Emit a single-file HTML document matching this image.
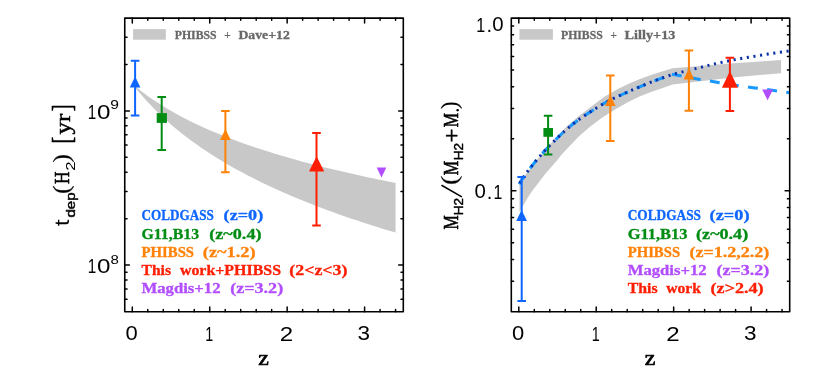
<!DOCTYPE html>
<html><head><meta charset="utf-8"><title>chart</title>
<style>html,body{margin:0;padding:0;background:#fff;}svg{display:block;}</style>
</head><body>
<svg width="830" height="367" viewBox="0 0 830 367"><g style="opacity:0.999"><path d="M135.40 86.37L139.73 89.89L144.07 93.22L148.41 96.40L152.74 99.44L157.08 102.34L161.41 105.12L165.75 107.79L170.09 110.36L174.42 112.84L178.76 115.22L183.09 117.53L187.43 119.75L191.77 121.91L196.10 124.00L200.44 126.02L204.77 127.99L209.11 129.90L213.45 131.75L217.78 133.56L222.12 135.32L226.45 137.03L230.79 138.70L235.13 140.34L239.46 141.93L243.80 143.48L248.14 145.00L252.47 146.49L256.81 147.94L261.14 149.36L265.48 150.76L269.82 152.12L274.15 153.46L278.49 154.77L282.82 156.06L287.16 157.32L291.50 158.56L295.83 159.77L300.17 160.97L304.50 162.14L308.84 163.29L313.18 164.43L317.51 165.54L321.85 166.64L326.18 167.72L330.52 168.78L334.86 169.83L339.19 170.85L343.53 171.87L347.87 172.87L352.20 173.85L356.54 174.82L360.87 175.78L365.21 176.72L369.55 177.65L373.88 178.56L378.22 179.47L382.55 180.36L386.89 181.24L391.23 182.11L395.56 182.97L395.56 232.58L391.23 231.29L386.89 229.99L382.55 228.67L378.22 227.33L373.88 225.97L369.55 224.60L365.21 223.20L360.87 221.79L356.54 220.36L352.20 218.90L347.87 217.43L343.53 215.93L339.19 214.41L334.86 212.86L330.52 211.30L326.18 209.70L321.85 208.09L317.51 206.44L313.18 204.77L308.84 203.07L304.50 201.34L300.17 199.58L295.83 197.79L291.50 195.96L287.16 194.10L282.82 192.21L278.49 190.28L274.15 188.32L269.82 186.31L265.48 184.26L261.14 182.17L256.81 180.04L252.47 177.86L248.14 175.63L243.80 173.35L239.46 171.02L235.13 168.63L230.79 166.18L226.45 163.68L222.12 161.11L217.78 158.47L213.45 155.76L209.11 152.97L204.77 150.11L200.44 147.16L196.10 144.12L191.77 140.99L187.43 137.76L183.09 134.42L178.76 130.96L174.42 127.38L170.09 123.67L165.75 119.82L161.41 115.81L157.08 111.64L152.74 107.28L148.41 102.73L144.07 97.96L139.73 92.95L135.40 87.69Z" fill="#c8c8c8"/>
<rect x="133.1" y="29.1" width="32.7" height="10.6" fill="#c8c8c8"/>
<path d="M135.10 60.70V115.60M130.80 60.70h8.6M130.80 115.60h8.6" stroke="#0f66ff" stroke-width="2.0" fill="none"/>
<path d="M129.75 87.60L135.10 76.40L140.45 87.60Z" fill="#0f66ff"/>
<path d="M161.70 97.00V149.90M157.40 97.00h8.6M157.40 149.90h8.6" stroke="#008c14" stroke-width="2.0" fill="none"/>
<rect x="156.70" y="113.10" width="10.2" height="9.8" fill="#008c14"/>
<path d="M225.40 110.90V172.20M221.10 110.90h8.6M221.10 172.20h8.6" stroke="#ff8208" stroke-width="2.0" fill="none"/>
<path d="M220.05 140.10L225.40 128.90L230.75 140.10Z" fill="#ff8208"/>
<path d="M316.50 133.00V225.60M312.20 133.00h8.6M312.20 225.60h8.6" stroke="#ff1e00" stroke-width="2.0" fill="none"/>
<path d="M309.00 171.50L316.60 156.30L324.20 171.50Z" fill="#ff1e00"/>
<path d="M376.70 167.60L381.50 177.40L386.30 167.60Z" fill="#b24dff"/>
<g stroke="#000" stroke-width="1.5" fill="none" stroke-linecap="round"><path d="M132.30 18.1v4.9M132.30 311.8v-4.9"/><path d="M147.79 18.1v2.2M147.79 311.8v-2.2"/><path d="M163.27 18.1v2.2M163.27 311.8v-2.2"/><path d="M178.76 18.1v2.2M178.76 311.8v-2.2"/><path d="M194.24 18.1v2.2M194.24 311.8v-2.2"/><path d="M209.73 18.1v4.9M209.73 311.8v-4.9"/><path d="M225.22 18.1v2.2M225.22 311.8v-2.2"/><path d="M240.70 18.1v2.2M240.70 311.8v-2.2"/><path d="M256.19 18.1v2.2M256.19 311.8v-2.2"/><path d="M271.67 18.1v2.2M271.67 311.8v-2.2"/><path d="M287.16 18.1v4.9M287.16 311.8v-4.9"/><path d="M302.65 18.1v2.2M302.65 311.8v-2.2"/><path d="M318.13 18.1v2.2M318.13 311.8v-2.2"/><path d="M333.62 18.1v2.2M333.62 311.8v-2.2"/><path d="M349.10 18.1v2.2M349.10 311.8v-2.2"/><path d="M364.59 18.1v4.9M364.59 311.8v-4.9"/><path d="M380.08 18.1v2.2M380.08 311.8v-2.2"/><path d="M395.56 18.1v2.2M395.56 311.8v-2.2"/><path d="M124.75 265.10h4.6M403.3 265.10h-4.6"/><path d="M124.75 110.90h4.6M403.3 110.90h-4.6"/><path d="M124.75 299.31h2.3M403.3 299.31h-2.3"/><path d="M124.75 288.99h2.3M403.3 288.99h-2.3"/><path d="M124.75 280.04h2.3M403.3 280.04h-2.3"/><path d="M124.75 272.16h2.3M403.3 272.16h-2.3"/><path d="M124.75 218.68h2.3M403.3 218.68h-2.3"/><path d="M124.75 191.53h2.3M403.3 191.53h-2.3"/><path d="M124.75 172.26h2.3M403.3 172.26h-2.3"/><path d="M124.75 157.32h2.3M403.3 157.32h-2.3"/><path d="M124.75 145.11h2.3M403.3 145.11h-2.3"/><path d="M124.75 134.79h2.3M403.3 134.79h-2.3"/><path d="M124.75 125.84h2.3M403.3 125.84h-2.3"/><path d="M124.75 117.96h2.3M403.3 117.96h-2.3"/><path d="M124.75 64.48h2.3M403.3 64.48h-2.3"/><path d="M124.75 37.33h2.3M403.3 37.33h-2.3"/></g><rect x="124.75" y="18.1" width="278.55" height="293.70" fill="none" stroke="#000" stroke-width="1.6" stroke-linejoin="round"/>
<path d="M519.50 181.00L523.00 177.70L530.00 168.50L538.00 158.60L544.80 150.50L550.50 143.70L558.00 135.20L566.10 126.90L578.20 116.60L587.80 109.20L604.10 97.00L616.00 89.90L628.20 83.90L640.00 79.00L652.30 74.60L662.00 71.50L672.50 68.30L700.00 65.90L730.00 63.60L760.00 61.60L781.10 60.00L781.10 73.20L760.00 75.00L735.00 77.30L720.00 79.00L700.00 81.20L672.70 84.40L662.00 88.20L652.30 91.50L640.00 96.30L628.20 102.00L616.70 108.50L602.30 117.50L590.20 126.50L578.20 137.10L566.40 149.50L561.30 155.00L557.40 160.00L545.00 174.30L533.30 189.60L529.70 194.50L523.00 205.70L519.50 212.00Z" fill="#c8c8c8"/>
<rect x="519.4" y="29.1" width="33.5" height="10.6" fill="#c8c8c8"/>
<path d="M672.60 74.30L666.00 76.70L658.30 79.40L649.00 83.00L640.20 86.70L631.00 90.50L622.20 94.50L613.00 98.70L604.10 103.30L595.00 108.90L587.80 113.50L580.00 118.80L573.40 123.70L566.00 129.80L558.90 136.50L550.00 145.20L543.30 152.30L536.00 160.80L530.00 168.30L526.70 172.60L523.30 177.60L521.00 181.00L518.90 184.80" fill="none" stroke="#1798ff" stroke-width="3.0" stroke-dasharray="9.9 9.4" stroke-dashoffset="9.9"/>
<path d="M671.90 74.20L686.00 76.90L700.00 79.40L715.40 82.00L734.00 85.00L753.00 87.70L772.00 90.20L789.70 92.70" fill="none" stroke="#1798ff" stroke-width="3.0" stroke-dasharray="9.9 9.4"/>
<path d="M789.70 50.90L768.00 54.10L748.70 57.20L735.00 59.60L722.30 62.20L712.00 64.50L701.80 67.10L692.00 69.50L682.50 71.90L672.60 74.30L666.00 76.70L658.30 79.40L649.00 83.00L640.20 86.70L631.00 90.50L622.20 94.50L613.00 98.70L604.10 103.30L595.00 108.90L587.80 113.50L580.00 118.80L573.40 123.70L566.00 129.80L558.90 136.50L550.00 145.20L543.30 152.30L536.00 160.80L530.00 168.30L526.70 172.60L523.30 177.60L521.00 181.00L518.90 184.80" fill="none" stroke="#0830a8" stroke-width="3.0" stroke-dasharray="2.1 4.6" stroke-dashoffset="-1.1"/>
<path d="M521.70 177.00V301.10M517.40 177.00h8.6M517.40 301.10h8.6" stroke="#0f66ff" stroke-width="2.0" fill="none"/>
<path d="M516.20 221.10L521.60 209.90L527.00 221.10Z" fill="#0f66ff"/>
<path d="M548.10 115.80V154.40M543.80 115.80h8.6M543.80 154.40h8.6" stroke="#008c14" stroke-width="2.0" fill="none"/>
<rect x="543.40" y="128.00" width="9.6" height="8.8" fill="#008c14"/>
<path d="M610.30 75.40V141.00M606.00 75.40h8.6M606.00 141.00h8.6" stroke="#ff8208" stroke-width="2.0" fill="none"/>
<path d="M605.00 106.10L610.30 94.90L615.60 106.10Z" fill="#ff8208"/>
<path d="M688.90 50.60V110.70M684.60 50.60h8.6M684.60 110.70h8.6" stroke="#ff8208" stroke-width="2.0" fill="none"/>
<path d="M683.60 79.50L688.90 68.30L694.20 79.50Z" fill="#ff8208"/>
<path d="M729.90 57.80V111.10M725.60 57.80h8.6M725.60 111.10h8.6" stroke="#ff1e00" stroke-width="2.0" fill="none"/>
<path d="M721.90 87.70L729.90 71.10L737.90 87.70Z" fill="#ff1e00"/>
<path d="M762.15 89.45L767.60 100.35L773.05 89.45Z" fill="#b24dff"/>
<g stroke="#000" stroke-width="1.5" fill="none" stroke-linecap="round"><path d="M518.80 18.1v4.9M518.80 311.8v-4.9"/><path d="M534.29 18.1v2.2M534.29 311.8v-2.2"/><path d="M549.77 18.1v2.2M549.77 311.8v-2.2"/><path d="M565.26 18.1v2.2M565.26 311.8v-2.2"/><path d="M580.74 18.1v2.2M580.74 311.8v-2.2"/><path d="M596.23 18.1v4.9M596.23 311.8v-4.9"/><path d="M611.72 18.1v2.2M611.72 311.8v-2.2"/><path d="M627.20 18.1v2.2M627.20 311.8v-2.2"/><path d="M642.69 18.1v2.2M642.69 311.8v-2.2"/><path d="M658.17 18.1v2.2M658.17 311.8v-2.2"/><path d="M673.66 18.1v4.9M673.66 311.8v-4.9"/><path d="M689.15 18.1v2.2M689.15 311.8v-2.2"/><path d="M704.63 18.1v2.2M704.63 311.8v-2.2"/><path d="M720.12 18.1v2.2M720.12 311.8v-2.2"/><path d="M735.60 18.1v2.2M735.60 311.8v-2.2"/><path d="M751.09 18.1v4.9M751.09 311.8v-4.9"/><path d="M766.58 18.1v2.2M766.58 311.8v-2.2"/><path d="M782.06 18.1v2.2M782.06 311.8v-2.2"/><path d="M511.3 190.85h4.6M789.7 190.85h-4.6"/><path d="M511.3 281.18h2.3M789.7 281.18h-2.3"/><path d="M511.3 259.59h2.3M789.7 259.59h-2.3"/><path d="M511.3 242.85h2.3M789.7 242.85h-2.3"/><path d="M511.3 229.17h2.3M789.7 229.17h-2.3"/><path d="M511.3 217.61h2.3M789.7 217.61h-2.3"/><path d="M511.3 207.59h2.3M789.7 207.59h-2.3"/><path d="M511.3 198.75h2.3M789.7 198.75h-2.3"/><path d="M511.3 138.85h2.3M789.7 138.85h-2.3"/><path d="M511.3 108.43h2.3M789.7 108.43h-2.3"/><path d="M511.3 86.84h2.3M789.7 86.84h-2.3"/><path d="M511.3 70.10h2.3M789.7 70.10h-2.3"/><path d="M511.3 56.42h2.3M789.7 56.42h-2.3"/><path d="M511.3 44.86h2.3M789.7 44.86h-2.3"/><path d="M511.3 34.84h2.3M789.7 34.84h-2.3"/><path d="M511.3 26.00h2.3M789.7 26.00h-2.3"/></g><rect x="511.3" y="18.1" width="278.40" height="293.70" fill="none" stroke="#000" stroke-width="1.6" stroke-linejoin="round"/>
<text x="174.8" y="38.6" style="font-family:'Liberation Serif',serif" font-size="12" font-weight="bold" fill="#686868" stroke="#686868" stroke-width="0.3" text-anchor="start" textLength="41.7" lengthAdjust="spacingAndGlyphs">PHIBSS</text>
<text x="238.4" y="38.6" style="font-family:'Liberation Serif',serif" font-size="12" font-weight="bold" fill="#686868" stroke="#686868" stroke-width="0.3" text-anchor="start" textLength="51.4" lengthAdjust="spacingAndGlyphs">Dave+12</text>
<text x="561.0" y="38.6" style="font-family:'Liberation Serif',serif" font-size="12" font-weight="bold" fill="#686868" stroke="#686868" stroke-width="0.3" text-anchor="start" textLength="41.7" lengthAdjust="spacingAndGlyphs">PHIBSS</text>
<text x="624.6" y="38.6" style="font-family:'Liberation Serif',serif" font-size="12" font-weight="bold" fill="#686868" stroke="#686868" stroke-width="0.3" text-anchor="start" textLength="50.8" lengthAdjust="spacingAndGlyphs">Lilly+13</text>
<text x="141.5" y="220.4" style="font-family:'Liberation Serif',serif" font-size="14" font-weight="bold" fill="#0f66ff" stroke="#0f66ff" stroke-width="0.3" text-anchor="start" textLength="72.3" lengthAdjust="spacingAndGlyphs">COLDGASS</text>
<text x="223.6" y="220.4" style="font-family:'Liberation Serif',serif" font-size="14" font-weight="bold" fill="#0f66ff" stroke="#0f66ff" stroke-width="0.3" text-anchor="start" textLength="39.6" lengthAdjust="spacingAndGlyphs">(z=0)</text>
<text x="141.5" y="238.7" style="font-family:'Liberation Serif',serif" font-size="14" font-weight="bold" fill="#008c14" stroke="#008c14" stroke-width="0.3" text-anchor="start" textLength="57.6" lengthAdjust="spacingAndGlyphs">G11,B13</text>
<text x="209.3" y="238.7" style="font-family:'Liberation Serif',serif" font-size="14" font-weight="bold" fill="#008c14" stroke="#008c14" stroke-width="0.3" text-anchor="start" textLength="52.2" lengthAdjust="spacingAndGlyphs">(z~0.4)</text>
<text x="141.5" y="256.6" style="font-family:'Liberation Serif',serif" font-size="14" font-weight="bold" fill="#ff8208" stroke="#ff8208" stroke-width="0.3" text-anchor="start" textLength="52.6" lengthAdjust="spacingAndGlyphs">PHIBSS</text>
<text x="202.8" y="256.6" style="font-family:'Liberation Serif',serif" font-size="14" font-weight="bold" fill="#ff8208" stroke="#ff8208" stroke-width="0.3" text-anchor="start" textLength="52.8" lengthAdjust="spacingAndGlyphs">(z~1.2)</text>
<text x="141.5" y="275.0" style="font-family:'Liberation Serif',serif" font-size="14" font-weight="bold" fill="#ff1e00" stroke="#ff1e00" stroke-width="0.3" text-anchor="start" textLength="29.5" lengthAdjust="spacingAndGlyphs">This</text>
<text x="179.9" y="275.0" style="font-family:'Liberation Serif',serif" font-size="14" font-weight="bold" fill="#ff1e00" stroke="#ff1e00" stroke-width="0.3" text-anchor="start" textLength="101.1" lengthAdjust="spacingAndGlyphs">work+PHIBSS</text>
<text x="289.3" y="275.0" style="font-family:'Liberation Serif',serif" font-size="14" font-weight="bold" fill="#ff1e00" stroke="#ff1e00" stroke-width="0.3" text-anchor="start" textLength="58.2" lengthAdjust="spacingAndGlyphs">(2&lt;z&lt;3)</text>
<text x="141.5" y="293.4" style="font-family:'Liberation Serif',serif" font-size="14" font-weight="bold" fill="#b24dff" stroke="#b24dff" stroke-width="0.3" text-anchor="start" textLength="79.0" lengthAdjust="spacingAndGlyphs">Magdis+12</text>
<text x="230.2" y="293.4" style="font-family:'Liberation Serif',serif" font-size="14" font-weight="bold" fill="#b24dff" stroke="#b24dff" stroke-width="0.3" text-anchor="start" textLength="53.0" lengthAdjust="spacingAndGlyphs">(z=3.2)</text>
<text x="627.7" y="220.4" style="font-family:'Liberation Serif',serif" font-size="14" font-weight="bold" fill="#0f66ff" stroke="#0f66ff" stroke-width="0.3" text-anchor="start" textLength="73.3" lengthAdjust="spacingAndGlyphs">COLDGASS</text>
<text x="709.6" y="220.4" style="font-family:'Liberation Serif',serif" font-size="14" font-weight="bold" fill="#0f66ff" stroke="#0f66ff" stroke-width="0.3" text-anchor="start" textLength="39.9" lengthAdjust="spacingAndGlyphs">(z=0)</text>
<text x="627.7" y="238.7" style="font-family:'Liberation Serif',serif" font-size="14" font-weight="bold" fill="#008c14" stroke="#008c14" stroke-width="0.3" text-anchor="start" textLength="59.8" lengthAdjust="spacingAndGlyphs">G11,B13</text>
<text x="696.1" y="238.7" style="font-family:'Liberation Serif',serif" font-size="14" font-weight="bold" fill="#008c14" stroke="#008c14" stroke-width="0.3" text-anchor="start" textLength="52.1" lengthAdjust="spacingAndGlyphs">(z~0.4)</text>
<text x="627.7" y="256.6" style="font-family:'Liberation Serif',serif" font-size="14" font-weight="bold" fill="#ff8208" stroke="#ff8208" stroke-width="0.3" text-anchor="start" textLength="52.4" lengthAdjust="spacingAndGlyphs">PHIBSS</text>
<text x="689.4" y="256.6" style="font-family:'Liberation Serif',serif" font-size="14" font-weight="bold" fill="#ff8208" stroke="#ff8208" stroke-width="0.3" text-anchor="start" textLength="80.0" lengthAdjust="spacingAndGlyphs">(z=1.2,2.2)</text>
<text x="627.7" y="275.0" style="font-family:'Liberation Serif',serif" font-size="14" font-weight="bold" fill="#b24dff" stroke="#b24dff" stroke-width="0.3" text-anchor="start" textLength="79.0" lengthAdjust="spacingAndGlyphs">Magdis+12</text>
<text x="716.4" y="275.0" style="font-family:'Liberation Serif',serif" font-size="14" font-weight="bold" fill="#b24dff" stroke="#b24dff" stroke-width="0.3" text-anchor="start" textLength="53.0" lengthAdjust="spacingAndGlyphs">(z=3.2)</text>
<text x="627.7" y="293.4" style="font-family:'Liberation Serif',serif" font-size="14" font-weight="bold" fill="#ff1e00" stroke="#ff1e00" stroke-width="0.3" text-anchor="start" textLength="29.9" lengthAdjust="spacingAndGlyphs">This</text>
<text x="666.3" y="293.4" style="font-family:'Liberation Serif',serif" font-size="14" font-weight="bold" fill="#ff1e00" stroke="#ff1e00" stroke-width="0.3" text-anchor="start" textLength="34.7" lengthAdjust="spacingAndGlyphs">work</text>
<text x="710.6" y="293.4" style="font-family:'Liberation Serif',serif" font-size="14" font-weight="bold" fill="#ff1e00" stroke="#ff1e00" stroke-width="0.3" text-anchor="start" textLength="53.0" lengthAdjust="spacingAndGlyphs">(z&gt;2.4)</text>
<path d="M442.0 185.5L461.4 196.6" stroke="#000" stroke-width="1.55" stroke-linecap="round" fill="none"/>
<text transform="translate(224.03,39.18) scale(0.1218,0.1259)" style="font-family:'Liberation Serif'" font-size="100" font-weight="bold" fill="#686868">+</text>
<text transform="translate(610.23,39.18) scale(0.1218,0.1259)" style="font-family:'Liberation Serif'" font-size="100" font-weight="bold" fill="#686868">+</text>
<text transform="translate(125.51,340.49) scale(0.2200,0.2003)" style="font-family:'Liberation Sans'" font-size="100" font-weight="normal" fill="#000">0</text>
<text transform="translate(205.20,340.80) scale(0.1434,0.2048)" style="font-family:'Liberation Sans'" font-size="100" font-weight="normal" fill="#000">1</text>
<text transform="translate(279.77,340.80) scale(0.2411,0.2048)" style="font-family:'Liberation Sans'" font-size="100" font-weight="normal" fill="#000">2</text>
<text transform="translate(357.60,340.49) scale(0.2250,0.2003)" style="font-family:'Liberation Sans'" font-size="100" font-weight="normal" fill="#000">3</text>
<text transform="translate(258.23,364.60) scale(0.2388,0.2069)" style="font-family:'Liberation Serif'" font-size="100" font-weight="normal" fill="#000" stroke="#000" stroke-width="3.15" stroke-linejoin="round">z</text>
<text transform="translate(512.01,340.49) scale(0.2200,0.2003)" style="font-family:'Liberation Sans'" font-size="100" font-weight="normal" fill="#000">0</text>
<text transform="translate(591.70,340.80) scale(0.1434,0.2048)" style="font-family:'Liberation Sans'" font-size="100" font-weight="normal" fill="#000">1</text>
<text transform="translate(666.27,340.80) scale(0.2411,0.2048)" style="font-family:'Liberation Sans'" font-size="100" font-weight="normal" fill="#000">2</text>
<text transform="translate(744.10,340.49) scale(0.2250,0.2003)" style="font-family:'Liberation Sans'" font-size="100" font-weight="normal" fill="#000">3</text>
<text transform="translate(644.73,364.60) scale(0.2388,0.2069)" style="font-family:'Liberation Serif'" font-size="100" font-weight="normal" fill="#000" stroke="#000" stroke-width="3.15" stroke-linejoin="round">z</text>
<text transform="translate(87.85,119.20) scale(0.1523,0.2062)" style="font-family:'Liberation Sans'" font-size="100" font-weight="normal" fill="#000">1</text>
<text transform="translate(97.04,118.88) scale(0.2420,0.2017)" style="font-family:'Liberation Sans'" font-size="100" font-weight="normal" fill="#000">0</text>
<text transform="translate(110.27,109.41) scale(0.1557,0.1197)" style="font-family:'Liberation Sans'" font-size="100" font-weight="normal" fill="#000">9</text>
<text transform="translate(87.85,273.40) scale(0.1523,0.2062)" style="font-family:'Liberation Sans'" font-size="100" font-weight="normal" fill="#000">1</text>
<text transform="translate(97.04,273.08) scale(0.2420,0.2017)" style="font-family:'Liberation Sans'" font-size="100" font-weight="normal" fill="#000">0</text>
<text transform="translate(110.53,263.61) scale(0.1507,0.1197)" style="font-family:'Liberation Sans'" font-size="100" font-weight="normal" fill="#000">8</text>
<text transform="translate(476.19,31.80) scale(0.1611,0.2005)" style="font-family:'Liberation Sans'" font-size="100" font-weight="normal" fill="#000">1</text>
<text transform="translate(486.53,31.80) scale(0.2011,0.2011)" style="font-family:'Liberation Sans'" font-size="100" font-weight="normal" fill="#000">.</text>
<text transform="translate(492.26,31.49) scale(0.2040,0.1962)" style="font-family:'Liberation Sans'" font-size="100" font-weight="normal" fill="#000">0</text>
<text transform="translate(474.56,198.49) scale(0.2040,0.1962)" style="font-family:'Liberation Sans'" font-size="100" font-weight="normal" fill="#000">0</text>
<text transform="translate(486.83,198.80) scale(0.2011,0.2011)" style="font-family:'Liberation Sans'" font-size="100" font-weight="normal" fill="#000">.</text>
<text transform="translate(493.51,198.80) scale(0.1589,0.2005)" style="font-family:'Liberation Sans'" font-size="100" font-weight="normal" fill="#000">1</text>
<text transform="rotate(-90) translate(-226.10,69.28) scale(0.2347,0.2069)" style="font-family:'Liberation Sans'" font-size="100" font-weight="normal" fill="#000">t</text>
<text transform="rotate(-90) translate(-217.57,75.22) scale(0.1509,0.1270)" style="font-family:'Liberation Sans'" font-size="100" font-weight="normal" fill="#000" stroke="#000" stroke-width="3.61" stroke-linejoin="round">dep</text>
<text transform="rotate(-90) translate(-193.77,69.17) scale(0.2453,0.2343)" style="font-family:'Liberation Serif'" font-size="100" font-weight="normal" fill="#000" stroke="#000" stroke-width="0.83" stroke-linejoin="round">(</text>
<text transform="rotate(-90) translate(-183.97,69.30) scale(0.1745,0.2179)" style="font-family:'Liberation Serif'" font-size="100" font-weight="normal" fill="#000" stroke="#000" stroke-width="2.82" stroke-linejoin="round">H</text>
<text transform="rotate(-90) translate(-170.69,74.90) scale(0.1685,0.1365)" style="font-family:'Liberation Sans'" font-size="100" font-weight="normal" fill="#000">2</text>
<text transform="rotate(-90) translate(-162.38,69.17) scale(0.2485,0.2343)" style="font-family:'Liberation Serif'" font-size="100" font-weight="normal" fill="#000" stroke="#000" stroke-width="0.83" stroke-linejoin="round">)</text>
<text transform="rotate(-90) translate(-143.55,71.17) scale(0.2005,0.2726)" style="font-family:'Liberation Serif'" font-size="100" font-weight="normal" fill="#000" stroke="#000" stroke-width="2.35" stroke-linejoin="round">[</text>
<text transform="rotate(-90) translate(-134.50,69.82) scale(0.2500,0.2048)" style="font-family:'Liberation Serif'" font-size="100" font-weight="normal" fill="#000" stroke="#000" stroke-width="2.43" stroke-linejoin="round">yr</text>
<text transform="rotate(-90) translate(-111.23,71.17) scale(0.2005,0.2726)" style="font-family:'Liberation Serif'" font-size="100" font-weight="normal" fill="#000" stroke="#000" stroke-width="2.35" stroke-linejoin="round">]</text>
<text transform="rotate(-90) translate(-229.55,457.70) scale(0.1606,0.2194)" style="font-family:'Liberation Serif'" font-size="100" font-weight="normal" fill="#000" stroke="#000" stroke-width="2.93" stroke-linejoin="round">M</text>
<text transform="rotate(-90) translate(-215.36,462.50) scale(0.1354,0.1365)" style="font-family:'Liberation Sans'" font-size="100" font-weight="normal" fill="#000" stroke="#000" stroke-width="3.31" stroke-linejoin="round">H2</text>
<text transform="rotate(-90) translate(-184.88,456.97) scale(0.2809,0.2300)" style="font-family:'Liberation Serif'" font-size="100" font-weight="normal" fill="#000" stroke="#000" stroke-width="0.79" stroke-linejoin="round">(</text>
<text transform="rotate(-90) translate(-175.25,457.70) scale(0.1617,0.2194)" style="font-family:'Liberation Serif'" font-size="100" font-weight="normal" fill="#000" stroke="#000" stroke-width="2.92" stroke-linejoin="round">M</text>
<text transform="rotate(-90) translate(-160.36,462.50) scale(0.1354,0.1365)" style="font-family:'Liberation Sans'" font-size="100" font-weight="normal" fill="#000" stroke="#000" stroke-width="3.31" stroke-linejoin="round">H2</text>
<text transform="rotate(-90) translate(-142.55,459.31) scale(0.2453,0.2354)" style="font-family:'Liberation Serif'" font-size="100" font-weight="normal" fill="#000" stroke="#000" stroke-width="2.29" stroke-linejoin="round">+</text>
<text transform="rotate(-90) translate(-127.15,457.70) scale(0.1606,0.2194)" style="font-family:'Liberation Serif'" font-size="100" font-weight="normal" fill="#000" stroke="#000" stroke-width="2.93" stroke-linejoin="round">M</text>
<text transform="rotate(-90) translate(-112.70,459.12) scale(0.2080,0.2400)" style="font-family:'Liberation Serif'" font-size="100" font-weight="normal" fill="#000">.</text>
<text transform="rotate(-90) translate(-108.91,456.97) scale(0.2259,0.2300)" style="font-family:'Liberation Serif'" font-size="100" font-weight="normal" fill="#000" stroke="#000" stroke-width="0.88" stroke-linejoin="round">)</text></g></svg>
</body></html>
